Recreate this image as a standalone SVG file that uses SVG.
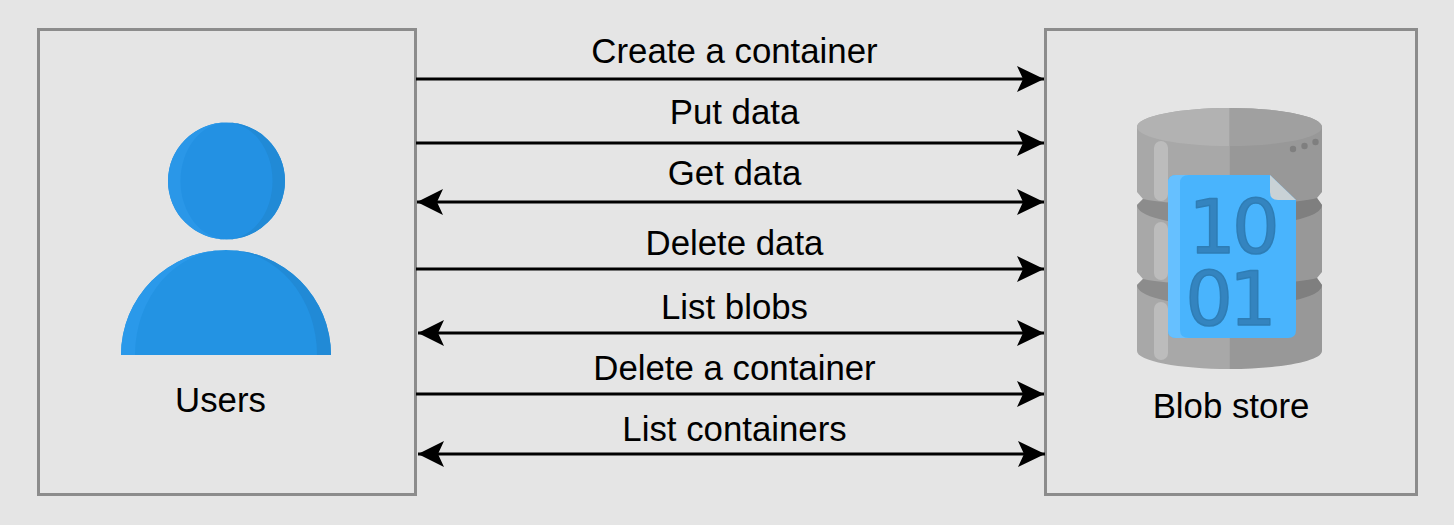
<svg xmlns="http://www.w3.org/2000/svg" width="1454" height="525" viewBox="0 0 1454 525">
<style>
.box{fill:#e5e5e5;stroke:#8c8c8c;stroke-width:3}
.lbl{font-family:"Liberation Sans",Arial,sans-serif;font-size:34.8px;fill:#000;text-anchor:middle}
.c{fill:none;stroke:#000;stroke-width:3}
.dig{font-family:"DejaVu Sans",sans-serif;font-size:75px;fill:#3484bf;stroke:#2e7db5;stroke-width:1.5;stroke-linejoin:round;text-anchor:middle;letter-spacing:-4px}
.sh{fill:#bcbcbc}
.band{fill:#8c8c8c}
</style>
<defs>
<marker id="arrowEnd" markerUnits="userSpaceOnUse" markerWidth="30" markerHeight="28" refX="27" refY="14" orient="auto">
<path d="M0 1L27 14L0 27L6 14Z" fill="#000"/>
</marker>
<marker id="arrowStart" markerUnits="userSpaceOnUse" markerWidth="30" markerHeight="28" refX="1" refY="14" orient="auto">
<path d="M27 1L1 14L27 27L21 14Z" fill="#000"/>
</marker>
<path id="cylShape" d="M1137 127C1137 116 1180 108 1229.500 108C1279 108 1322 116 1322 127V192L1317 198L1322 205V272L1317 278L1322 285V351C1322 361 1280 369 1229.500 369C1179 369 1137 361 1137 351V285L1143 279L1137 272V205L1143 199L1137 192Z"/>
<clipPath id="cylR"><path d="M1229.500 108C1279 108 1322 116 1322 127V192L1317 198L1322 205V272L1317 278L1322 285V351C1322 361 1280 369 1229.500 369Z"/></clipPath>
</defs>
<rect width="1454" height="525" fill="#e5e5e5"/>
<g id="users">
<rect class="box" x="38.500" y="29.500" width="377" height="465"/>
<circle cx="226.500" cy="181" r="58.500" fill="#2391e3"/>
<path d="M226.500 122.500A58.500 58.500 0 0 0 226.500 239.500A47 58.500 0 0 1 180.500 181A47 58.500 0 0 1 226.500 122.500Z" fill="#2a97e8"/>
<path d="M226.500 122.500A58.500 58.500 0 0 1 226.500 239.500A46 58.500 0 0 0 272.500 181A46 58.500 0 0 0 226.500 122.500Z" fill="#218ad6"/>
<path d="M121 355A105 105 0 0 1 331 355Z" fill="#2393e3"/>
<path d="M121 355A105 105 0 0 1 226 250A91 105 0 0 0 135 355Z" fill="#2a99ea"/>
<path d="M226 250A105 105 0 0 1 331 355H317A91 105 0 0 0 226 250Z" fill="#218ad6"/>
<text class="lbl" x="220.500" y="412">Users</text>
</g>
<g id="blob-store">
<rect class="box" x="1045.500" y="29.500" width="371" height="465"/>
<use href="#cylShape" fill="#a8a8a8"/>
<path class="band" d="M1143 199Q1165 204 1229.500 205Q1294 204 1317 198L1322 205Q1322 222 1229.500 228Q1137 222 1137 205Z"/>
<path class="band" d="M1143 279Q1165 284 1229.500 285Q1294 284 1317 278L1322 285Q1322 302 1229.500 308Q1137 302 1137 285Z"/>
<rect x="1229.500" y="100" width="100" height="280" fill="#000" opacity=".09" clip-path="url(#cylR)"/>
<path d="M1229.500 108C1180 108 1137 116 1137 127C1137 138 1180 146 1229.500 146Z" fill="#b2b2b2"/>
<path d="M1229.500 108C1279 108 1322 116 1322 127C1322 138 1279 146 1229.500 146Z" fill="#a0a0a0"/>
<circle cx="1293" cy="149" r="3.200" fill="#7f7f7f"/>
<circle cx="1304.500" cy="146" r="3.200" fill="#7f7f7f"/>
<circle cx="1315.500" cy="142" r="3.200" fill="#7f7f7f"/>
<rect class="sh" x="1154" y="141" width="14" height="60" rx="7"/>
<rect class="sh" x="1154" y="222" width="14" height="58" rx="7"/>
<rect class="sh" x="1154" y="302" width="14" height="58" rx="7"/>
<path d="M1176 175H1270L1296 200V330Q1296 338 1288 338H1176Q1168 338 1168 330V183Q1168 175 1176 175Z" fill="#49b4fd"/>
<path d="M1189 175H1176Q1168 175 1168 183V330Q1168 338 1176 338H1189Q1180 338 1180 330V183Q1180 175 1189 175Z" fill="#66c0ff"/>
<path d="M1270 175L1296 200H1278Q1270 200 1270 192Z" fill="#c9d2d6"/>
<text class="dig"><tspan x="1232" y="253">10</tspan><tspan x="1229" y="325">01</tspan></text>
<text class="lbl" x="1231" y="418">Blob store</text>
</g>
<g id="connectors">
<path class="c" d="M416 79H1044" marker-end="url(#arrowEnd)"/>
<path class="c" d="M416 143H1044" marker-end="url(#arrowEnd)"/>
<path class="c" d="M417 202H1044" marker-start="url(#arrowStart)" marker-end="url(#arrowEnd)"/>
<path class="c" d="M416 269H1044" marker-end="url(#arrowEnd)"/>
<path class="c" d="M418 333H1044" marker-start="url(#arrowStart)" marker-end="url(#arrowEnd)"/>
<path class="c" d="M416 394H1044" marker-end="url(#arrowEnd)"/>
<path class="c" d="M418 454H1045" marker-start="url(#arrowStart)" marker-end="url(#arrowEnd)"/>
</g>
<g id="connector-labels">
<text class="lbl" x="734.500" y="63">Create a container</text>
<text class="lbl" x="734.500" y="124">Put data</text>
<text class="lbl" x="734.500" y="185">Get data</text>
<text class="lbl" x="734.500" y="255">Delete data</text>
<text class="lbl" x="734.500" y="319">List blobs</text>
<text class="lbl" x="734.500" y="380">Delete a container</text>
<text class="lbl" x="734.500" y="441">List containers</text>
</g>
</svg>
